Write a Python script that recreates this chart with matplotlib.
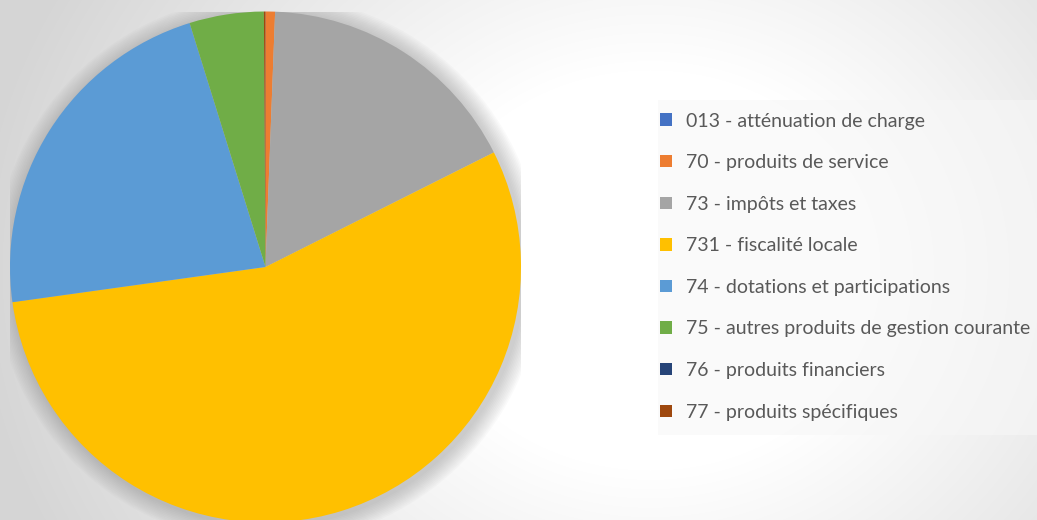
import numpy as np
import matplotlib
matplotlib.use("Agg")
import matplotlib.pyplot as plt
from matplotlib.patches import Circle, Rectangle

# données (parts en %)
labels = ["013 - atténuation de charge", "70 - produits de service", "73 - impôts et taxes",
          "731 - fiscalité locale", "74 - dotations et participations",
          "75 - autres produits de gestion courante", "76 - produits financiers",
          "77 - produits spécifiques"]
values = [0.0, 0.6, 17.0, 55.2, 22.4, 4.7, 0.0, 0.1]
colors = ["#4472C4", "#ED7D31", "#A5A5A5", "#FFC000", "#5B9BD5", "#70AD47", "#264478", "#9E480E"]

W, H = 1037, 520
fig = plt.figure(figsize=(W / 100, H / 100), dpi=100)

# fond en dégradé radial (style Excel)
bg = fig.add_axes([0, 0, 1, 1])
yy, xx = np.mgrid[0:H, 0:W]
d = np.hypot(xx - 650, (yy - 270) * 1.15)
g = 255 - np.clip((d - 230) / 450, 0, 1) * 42
bg.imshow(np.dstack([g, g, g]).astype(np.uint8), extent=[0, W, H, 0], aspect="auto")
bg.set_xlim(0, W)
bg.set_ylim(H, 0)
# cadre de la légende
bg.add_patch(Rectangle((658, 100), 400, 335, facecolor="#f7f7f7", alpha=0.6, lw=0))
bg.axis("off")

# camembert : centre (265.5, 267) px, rayon 255.5 px
r = 255.5
ax = fig.add_axes([(265.5 - r) / W, (H - 267 - r) / H, 2 * r / W, 2 * r / H])
for k in range(12):
    ax.add_patch(Circle((0.01, -0.01), 1.0 + 0.006 * (k + 1), color="#7f7f7f",
                        alpha=0.035, lw=0, zorder=0))
wedges, _ = ax.pie(values, colors=colors, startangle=90, counterclock=False,
                   radius=1, wedgeprops=dict(linewidth=0))
for w in wedges:
    w.set_zorder(2)
ax.set_xlim(-1, 1)
ax.set_ylim(-1, 1)
ax.set_aspect("equal")
ax.axis("off")

leg = fig.legend(wedges, labels, loc="upper left",
                 bbox_to_anchor=(660 / W, 1 - 112.5 / H),
                 prop=dict(family="Lato", size=14), labelcolor="#595959",
                 frameon=False, borderpad=0, borderaxespad=0,
                 handlelength=0.6, handleheight=0.6, handletextpad=0.72,
                 labelspacing=1.265)

fig.savefig("out.png", dpi=100)
